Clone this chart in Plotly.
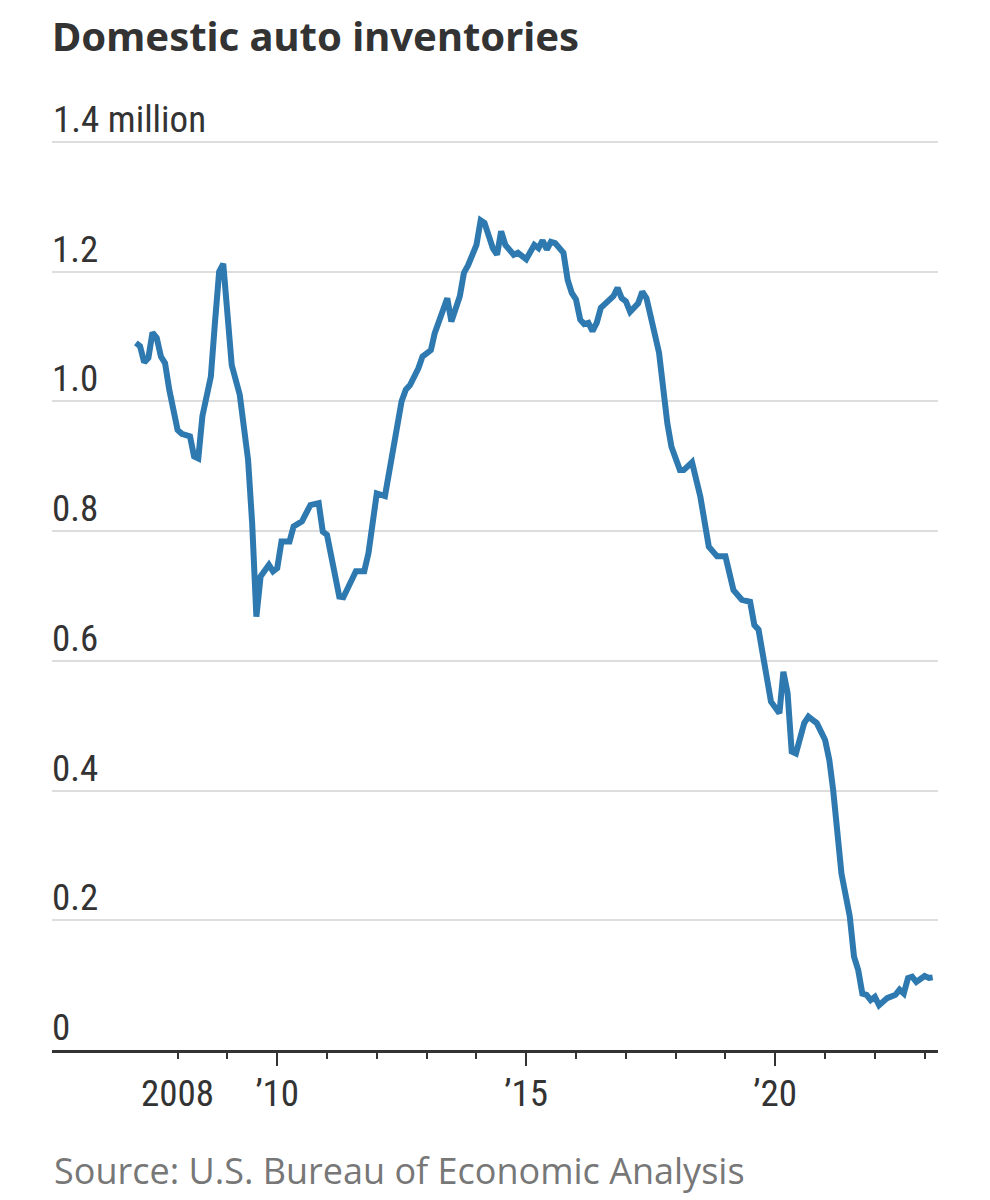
import plotly.graph_objects as go

# ---- data ----
months = [
    "2007-03", "2007-04", "2007-05", "2007-06", "2007-07", "2007-08", "2007-09", "2007-10", "2007-11",
    "2008-01", "2008-02", "2008-04", "2008-05", "2008-06", "2008-07", "2008-09", "2008-10", "2008-11", "2008-12",
    "2009-01", "2009-02", "2009-04", "2009-06", "2009-07", "2009-08", "2009-09", "2009-11", "2009-12",
    "2010-01", "2010-02", "2010-04", "2010-05", "2010-07", "2010-09", "2010-11", "2010-12",
    "2011-01", "2011-04", "2011-05", "2011-08", "2011-10", "2011-11", "2011-12",
    "2012-01", "2012-03", "2012-05", "2012-07", "2012-08", "2012-09", "2012-11", "2012-12",
    "2013-02", "2013-03", "2013-06", "2013-07", "2013-09", "2013-10", "2013-11",
    "2014-01", "2014-02", "2014-03", "2014-05", "2014-06", "2014-07", "2014-08", "2014-10", "2014-11",
    "2015-01", "2015-02", "2015-03", "2015-04", "2015-05", "2015-06", "2015-07", "2015-08", "2015-10", "2015-11", "2015-12",
    "2016-01", "2016-02", "2016-03", "2016-04", "2016-05", "2016-06", "2016-07", "2016-09", "2016-10", "2016-11", "2016-12",
    "2017-01", "2017-02", "2017-04", "2017-05", "2017-06", "2017-08", "2017-09", "2017-11", "2017-12",
    "2018-02", "2018-03", "2018-05", "2018-07", "2018-09", "2018-11",
    "2019-01", "2019-03", "2019-05", "2019-07", "2019-08", "2019-09", "2019-12",
    "2020-02", "2020-03", "2020-04", "2020-05", "2020-06", "2020-08", "2020-09", "2020-10", "2020-11",
    "2021-01", "2021-02", "2021-03", "2021-04", "2021-05", "2021-07", "2021-08", "2021-09", "2021-10", "2021-11", "2021-12",
    "2022-01", "2022-02", "2022-04", "2022-06", "2022-07", "2022-08", "2022-09", "2022-10", "2022-11",
    "2023-01", "2023-02", "2023-03",
]
inventories_millions = [
    1.090, 1.085, 1.060, 1.067, 1.106, 1.098, 1.069, 1.059, 1.018,
    0.956, 0.950, 0.946, 0.915, 0.912, 0.977, 1.038, 1.121, 1.200, 1.212,
    1.136, 1.056, 1.010, 0.910, 0.812, 0.668, 0.730, 0.748, 0.738,
    0.743, 0.784, 0.784, 0.807, 0.815, 0.840, 0.843, 0.799,
    0.794, 0.699, 0.698, 0.738, 0.738, 0.766, 0.807,
    0.858, 0.854, 0.928, 1.000, 1.018, 1.025, 1.051, 1.069,
    1.079, 1.105, 1.159, 1.123, 1.162, 1.198, 1.210,
    1.241, 1.279, 1.275, 1.236, 1.226, 1.262, 1.241, 1.226, 1.229,
    1.219, 1.229, 1.241, 1.236, 1.248, 1.234, 1.246, 1.244, 1.229, 1.187, 1.167,
    1.157, 1.126, 1.119, 1.121, 1.108, 1.121, 1.144, 1.157, 1.162, 1.175, 1.159,
    1.154, 1.138, 1.151, 1.169, 1.159, 1.105, 1.075, 0.966, 0.930,
    0.894, 0.894, 0.906, 0.853, 0.776, 0.761,
    0.761, 0.709, 0.694, 0.691, 0.655, 0.648, 0.537,
    0.519, 0.583, 0.550, 0.460, 0.457, 0.504, 0.514, 0.509, 0.504,
    0.478, 0.447, 0.401, 0.339, 0.272, 0.206, 0.144, 0.123, 0.087, 0.085, 0.077,
    0.082, 0.069, 0.080, 0.085, 0.093, 0.087, 0.111, 0.113, 0.105,
    0.114, 0.111, 0.112,
]

y_tick_values = [0, 0.2, 0.4, 0.6, 0.8, 1.0, 1.2, 1.4]
y_tick_labels = ["0", "0.2", "0.4", "0.6", "0.8", "1.0", "1.2", ""]
y_top_value = 1.4
y_top_label = "1.4 million"   # drawn as a text label so it does not hide the 2008 tick

x_tick_years = list(range(2008, 2024))
x_tick_labels = {2008: "2008", 2010: "\u201910", 2015: "\u201915", 2020: "\u201920"}
x_major_years = [2010, 2015, 2020]

title_text = "Domestic auto inventories"
source_text = "Source: U.S. Bureau of Economic Analysis"

# ---- styling ----
W, H = 990, 1200
L, R, T, B = 52, 52, 64, 150
LINE_COLOR = "#2e79b0"
TEXT = "#333333"
NARROW = "Liberation Sans Narrow, Roboto Condensed, Arial Narrow, sans-serif"
x_range = ["2005-06-24", "2023-04-09"]
y_range = [0, 1.52]

dates = [m + "-01" for m in months]

fig = go.Figure()
fig.add_trace(go.Scatter(
    x=dates, y=inventories_millions, mode="lines",
    line=dict(color=LINE_COLOR, width=6), hoverinfo="x+y", showlegend=False,
))

tickfont = dict(family=NARROW, size=37, color=TEXT)
plot_h = H - T - B

fig.update_layout(
    width=W, height=H,
    margin=dict(l=L, r=R, t=T, b=B),
    paper_bgcolor="white", plot_bgcolor="white",
    title=dict(
        text="<b>" + title_text + "</b>",
        x=L / W, xanchor="left", xref="container",
        y=1 - 37 / H, yanchor="middle", yref="container",
        font=dict(family="Noto Sans, Lato, sans-serif", size=40, color=TEXT),
    ),
    xaxis=dict(
        type="date", range=x_range,
        showgrid=False, zeroline=False,
        showline=True, linecolor=TEXT, linewidth=2.5,
        ticks="outside", ticklen=6, tickwidth=2, tickcolor=TEXT,
        tickvals=[f"{y}-01-01" for y in x_tick_years],
        ticktext=[x_tick_labels.get(y, "") for y in x_tick_years],
        tickfont=tickfont, ticklabelstandoff=3,
        minor=dict(
            tickmode="array", tickvals=[f"{y}-01-01" for y in x_major_years],
            ticks="outside", ticklen=13, tickwidth=2, tickcolor=TEXT, showgrid=False,
        ),
        fixedrange=True,
    ),
    yaxis=dict(
        range=y_range,
        showgrid=True, gridcolor="#dddddd", gridwidth=2,
        zeroline=False, showline=False, ticks="",
        tickvals=y_tick_values, ticktext=y_tick_labels,
        ticklabelposition="inside top", tickfont=tickfont,
        ticklabelstandoff=-3, ticklabelshift=3,
        fixedrange=True,
    ),
    annotations=[
        dict(
            text=y_top_label, xref="paper", yref="y",
            x=0, xanchor="left", xshift=-1, y=y_top_value, yanchor="middle", yshift=22,
            showarrow=False, font=tickfont,
        ),
        dict(
            text=source_text, xref="paper", yref="paper",
            x=0, xanchor="left", y=-(1170 - (H - B)) / plot_h, yanchor="middle",
            showarrow=False, font=dict(family="Open Sans, sans-serif", size=36, color="#777777"),
        ),
    ],
)

fig.write_html("out.html", config={"displayModeBar": False},
               post_script="document.body.style.margin='0';")
